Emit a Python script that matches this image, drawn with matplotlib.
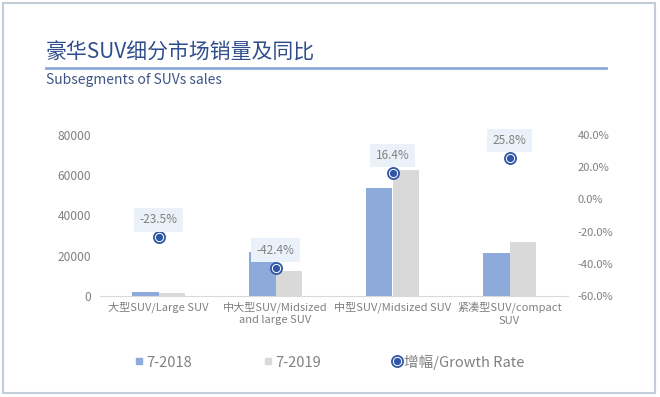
import matplotlib
matplotlib.use("Agg")
import matplotlib.pyplot as plt
import numpy as np
from matplotlib.patches import Rectangle
from matplotlib.lines import Line2D

plt.rcParams['font.family'] = ['Noto Sans CJK SC', 'DejaVu Sans']

categories = ["大型SUV/Large SUV", "中大型SUV/Midsized\nand large SUV",
              "中型SUV/Midsized SUV", "紧凑型SUV/compact\nSUV"]
sales_2018 = [2100, 21700, 53800, 21500]
sales_2019 = [1600, 12500, 62700, 26900]
growth = [-23.5, -42.4, 16.4, 25.8]
left_ticks = [0, 20000, 40000, 60000, 80000]
right_ticks = [-60, -40, -20, 0, 20, 40]
series_names = ["7-2018", "7-2019", "增幅/Growth Rate"]

title = "豪华SUV细分市场销量及同比"
subtitle = "Subsegments of SUVs sales"

C_BLUE = "#8eaadb"
C_GRAY = "#d9d9d9"
C_DOT = "#2f55a4"
C_TXT = "#808080"
C_TITLE = "#2f4d8c"
C_SUB = "#3f5684"

W, H = 660, 397
fig = plt.figure(figsize=(W / 100, H / 100), dpi=100)

# border
fig.patches.append(Rectangle((3 / W, 1 - 393 / H), 652 / W, 390 / H, transform=fig.transFigure,
                             fill=False, edgecolor="#c3ccd9", linewidth=1.5))

# title
fig.text(46 / W, 1 - 53 / H, title, fontsize=15, color=C_TITLE, va="center", ha="left")
fig.add_artist(Line2D([46 / W, 606 / W], [1 - 68 / H, 1 - 68 / H], transform=fig.transFigure,
                      color="#8ea9d8", linewidth=2))
fig.text(46 / W, 1 - 80 / H, subtitle, fontsize=10, color=C_SUB, va="center", ha="left")

ax = fig.add_axes([100 / W, 1 - 296 / H, 468 / W, 161 / H])
x = np.arange(len(categories))
bw = 0.225
ax.bar(x - bw / 2, sales_2018, width=bw, color=C_BLUE, zorder=2)
ax.bar(x + bw / 2, sales_2019, width=bw, color=C_GRAY, zorder=2)
ax.set_xlim(-0.5, len(categories) - 0.5)
ax.set_ylim(0, 80000)
ax.set_yticks(left_ticks)
ax.set_yticklabels([str(t) for t in left_ticks])
ax.set_xticks(x)
ax.set_xticklabels(categories, fontsize=8, color=C_TXT, linespacing=1.3)
ax.tick_params(axis="both", length=0, colors=C_TXT)
ax.tick_params(axis="y", pad=6.5, labelsize=8.6)
ax.tick_params(axis="x", pad=4, labelsize=8)
for s in ["top", "right", "left"]:
    ax.spines[s].set_visible(False)
ax.spines["bottom"].set_color("#d9d9d9")

ax2 = ax.twinx()
ax2.set_ylim(-60, 40)
ax2.set_yticks(right_ticks)
ax2.set_yticklabels([f"{t:.1f}%" for t in right_ticks])
ax2.tick_params(axis="y", length=0, colors=C_TXT, labelsize=8, pad=7)
for s in ["top", "right", "left", "bottom"]:
    ax2.spines[s].set_visible(False)

ax2.plot(x, growth, linestyle="none", marker="o", markersize=8, markerfacecolor="white",
         markeredgecolor=C_DOT, markeredgewidth=1.3, zorder=5)
ax2.plot(x, growth, linestyle="none", marker="o", markersize=4.2, markerfacecolor=C_DOT,
         markeredgecolor=C_DOT, zorder=6)
for xi, g in zip(x, growth):
    ax2.annotate(f"{g:.1f}%", (xi, g), xytext=(0, 12.5), textcoords="offset points",
                 ha="center", va="center", fontsize=8.5, color=C_TXT,
                 bbox=dict(boxstyle="square,pad=0.45", facecolor="#ebf1f9", edgecolor="none"),
                 zorder=7)

handles = [
    Line2D([], [], linestyle="none", marker="s", markersize=5, markerfacecolor=C_BLUE, markeredgecolor=C_BLUE),
    Line2D([], [], linestyle="none", marker="s", markersize=5, markerfacecolor=C_GRAY, markeredgecolor=C_GRAY),
    (Line2D([], [], linestyle="none", marker="o", markersize=8, markerfacecolor="white",
            markeredgecolor=C_DOT, markeredgewidth=1.3),
     Line2D([], [], linestyle="none", marker="o", markersize=4.2, markerfacecolor=C_DOT,
            markeredgecolor=C_DOT)),
]
leg = fig.legend(handles, series_names, loc="center left", bbox_to_anchor=(135 / W, 1 - 362 / H),
                 ncol=3, frameon=False, fontsize=10.5, handlelength=0.6, handletextpad=0.2,
                 columnspacing=4.9, borderaxespad=0, borderpad=0)
for t in leg.get_texts():
    t.set_color(C_TXT)

fig.savefig("out.png", dpi=100, facecolor="white")
